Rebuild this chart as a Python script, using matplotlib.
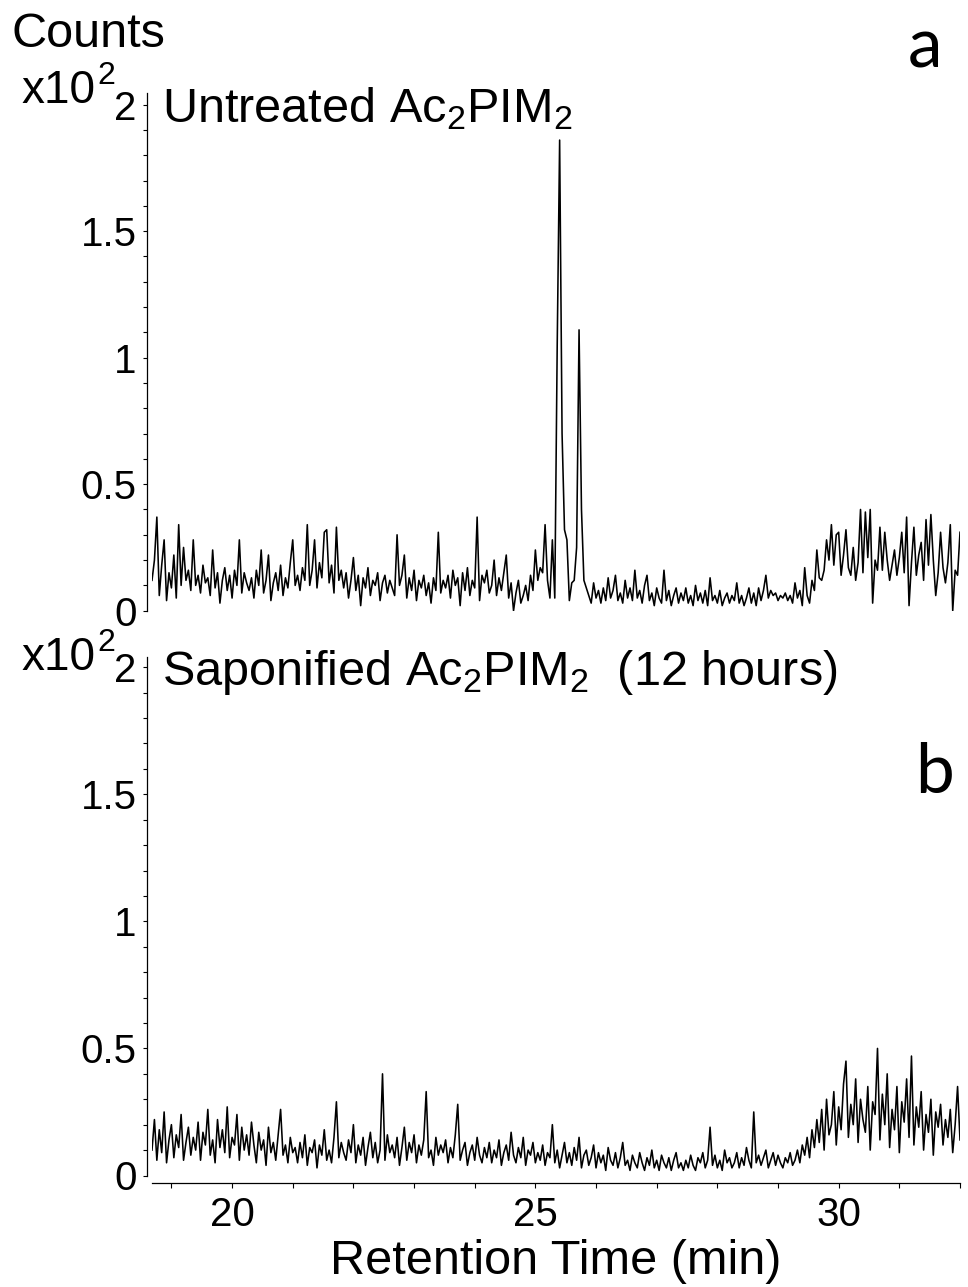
import numpy as np
import matplotlib
matplotlib.use("Agg")
import matplotlib.pyplot as plt
from matplotlib.ticker import MultipleLocator, FixedLocator

plt.rcParams['font.family'] = ['Liberation Sans', 'DejaVu Sans']
plt.rcParams['mathtext.fontset'] = 'custom'
plt.rcParams['mathtext.rm'] = 'Liberation Sans'
plt.rcParams['mathtext.it'] = 'Liberation Sans:italic'
plt.rcParams['mathtext.bf'] = 'Liberation Sans:bold'

# retention time grid (min), one reading every 0.04 min
rt_start = 18.68
rt_step = 0.04

untreated = [
    0.12, 0.20, 0.37, 0.06, 0.18, 0.28, 0.04, 0.15, 0.09, 0.22, 0.05, 0.34, 0.10, 0.25, 0.12, 0.16, 0.08, 0.28, 0.10, 0.14,
    0.07, 0.18, 0.11, 0.13, 0.06, 0.24, 0.09, 0.15, 0.03, 0.12, 0.17, 0.08, 0.14, 0.05, 0.16, 0.10, 0.28, 0.07, 0.15, 0.11,
    0.08, 0.13, 0.05, 0.16, 0.10, 0.24, 0.07, 0.12, 0.22, 0.04, 0.11, 0.15, 0.08, 0.18, 0.06, 0.13, 0.09, 0.19, 0.28, 0.10,
    0.14, 0.08, 0.17, 0.12, 0.34, 0.10, 0.16, 0.28, 0.09, 0.19, 0.13, 0.31, 0.32, 0.11, 0.18, 0.07, 0.33, 0.12, 0.16, 0.09,
    0.15, 0.05, 0.12, 0.21, 0.08, 0.14, 0.02, 0.13, 0.09, 0.17, 0.06, 0.12, 0.10, 0.15, 0.04, 0.11, 0.14, 0.07, 0.12, 0.09,
    0.06, 0.30, 0.10, 0.14, 0.22, 0.05, 0.13, 0.08, 0.16, 0.04, 0.12, 0.09, 0.14, 0.06, 0.11, 0.03, 0.13, 0.08, 0.31, 0.07,
    0.12, 0.09, 0.14, 0.05, 0.16, 0.10, 0.13, 0.02, 0.15, 0.08, 0.17, 0.06, 0.12, 0.09, 0.37, 0.04, 0.14, 0.11, 0.16, 0.07,
    0.10, 0.20, 0.06, 0.13, 0.08, 0.15, 0.22, 0.05, 0.11, 0.00, 0.07, 0.12, 0.03, 0.06, 0.10, 0.04, 0.14, 0.08, 0.24, 0.12,
    0.17, 0.15, 0.34, 0.12, 0.05, 0.28, 0.05, 1.05, 1.86, 0.70, 0.32, 0.28, 0.04, 0.11, 0.12, 0.25, 1.11, 0.40, 0.12, 0.09,
    0.06, 0.03, 0.11, 0.05, 0.08, 0.03, 0.09, 0.04, 0.13, 0.05, 0.08, 0.14, 0.04, 0.07, 0.03, 0.12, 0.05, 0.09, 0.04, 0.16,
    0.05, 0.08, 0.03, 0.10, 0.14, 0.04, 0.07, 0.02, 0.09, 0.05, 0.03, 0.16, 0.04, 0.08, 0.02, 0.06, 0.09, 0.03, 0.07, 0.04,
    0.09, 0.03, 0.06, 0.02, 0.10, 0.04, 0.07, 0.03, 0.08, 0.02, 0.13, 0.04, 0.06, 0.03, 0.08, 0.02, 0.05, 0.07, 0.03, 0.06,
    0.04, 0.11, 0.03, 0.06, 0.02, 0.05, 0.09, 0.03, 0.07, 0.02, 0.09, 0.04, 0.08, 0.14, 0.05, 0.08, 0.06, 0.07, 0.04, 0.06,
    0.05, 0.07, 0.04, 0.06, 0.03, 0.11, 0.05, 0.08, 0.02, 0.17, 0.06, 0.03, 0.12, 0.08, 0.24, 0.13, 0.12, 0.16, 0.28, 0.20,
    0.34, 0.18, 0.30, 0.31, 0.14, 0.22, 0.32, 0.17, 0.14, 0.25, 0.12, 0.19, 0.40, 0.15, 0.39, 0.21, 0.40, 0.03, 0.20, 0.16,
    0.33, 0.16, 0.31, 0.20, 0.12, 0.18, 0.24, 0.14, 0.21, 0.31, 0.15, 0.37, 0.02, 0.19, 0.33, 0.14, 0.22, 0.27, 0.12, 0.36,
    0.18, 0.38, 0.20, 0.06, 0.15, 0.31, 0.17, 0.11, 0.19, 0.34, 0.00, 0.16, 0.14, 0.31,
]

saponified = [
    0.10, 0.22, 0.06, 0.18, 0.09, 0.25, 0.05, 0.14, 0.20, 0.07, 0.16, 0.11, 0.24, 0.06, 0.13, 0.19, 0.08, 0.15, 0.10, 0.21,
    0.06, 0.17, 0.12, 0.26, 0.08, 0.14, 0.05, 0.22, 0.11, 0.18, 0.09, 0.27, 0.07, 0.15, 0.12, 0.24, 0.06, 0.19, 0.10, 0.16,
    0.08, 0.21, 0.12, 0.05, 0.17, 0.10, 0.14, 0.04, 0.19, 0.09, 0.13, 0.06, 0.16, 0.26, 0.08, 0.12, 0.05, 0.15, 0.09, 0.11,
    0.05, 0.13, 0.07, 0.16, 0.04, 0.11, 0.09, 0.14, 0.03, 0.12, 0.08, 0.18, 0.06, 0.10, 0.05, 0.15, 0.29, 0.07, 0.13, 0.09,
    0.06, 0.14, 0.09, 0.20, 0.05, 0.12, 0.08, 0.15, 0.04, 0.11, 0.17, 0.07, 0.13, 0.05, 0.10, 0.40, 0.06, 0.16, 0.09, 0.12,
    0.07, 0.15, 0.04, 0.11, 0.19, 0.06, 0.13, 0.09, 0.16, 0.05, 0.12, 0.08, 0.14, 0.33, 0.07, 0.10, 0.04, 0.15, 0.08, 0.12,
    0.09, 0.14, 0.05, 0.11, 0.07, 0.16, 0.28, 0.06, 0.10, 0.13, 0.04, 0.09, 0.12, 0.06, 0.15, 0.08, 0.05, 0.11, 0.07, 0.13,
    0.05, 0.10, 0.07, 0.14, 0.04, 0.09, 0.12, 0.06, 0.17, 0.08, 0.05, 0.11, 0.07, 0.15, 0.04, 0.10, 0.08, 0.13, 0.05, 0.09,
    0.06, 0.12, 0.04, 0.09, 0.07, 0.20, 0.05, 0.10, 0.03, 0.08, 0.13, 0.05, 0.09, 0.04, 0.11, 0.06, 0.15, 0.03, 0.08, 0.10,
    0.04, 0.07, 0.12, 0.03, 0.09, 0.05, 0.08, 0.02, 0.11, 0.06, 0.04, 0.09, 0.03, 0.07, 0.13, 0.04, 0.06, 0.02, 0.08, 0.05,
    0.03, 0.09, 0.05, 0.02, 0.07, 0.04, 0.10, 0.03, 0.06, 0.02, 0.08, 0.05, 0.03, 0.07, 0.02, 0.06, 0.09, 0.03, 0.05, 0.02,
    0.06, 0.03, 0.08, 0.04, 0.02, 0.07, 0.05, 0.09, 0.03, 0.06, 0.19, 0.04, 0.08, 0.03, 0.06, 0.02, 0.10, 0.05, 0.07, 0.03,
    0.05, 0.09, 0.03, 0.07, 0.04, 0.11, 0.06, 0.03, 0.25, 0.05, 0.08, 0.04, 0.07, 0.10, 0.03, 0.06, 0.09, 0.04, 0.08, 0.05,
    0.03, 0.07, 0.05, 0.09, 0.04, 0.06, 0.10, 0.05, 0.12, 0.08, 0.15, 0.07, 0.18, 0.11, 0.22, 0.13, 0.26, 0.10, 0.30, 0.16,
    0.20, 0.33, 0.12, 0.27, 0.18, 0.36, 0.45, 0.15, 0.28, 0.20, 0.38, 0.13, 0.30, 0.22, 0.17, 0.35, 0.10, 0.29, 0.24, 0.50,
    0.14, 0.32, 0.20, 0.40, 0.11, 0.26, 0.18, 0.35, 0.09, 0.29, 0.21, 0.38, 0.15, 0.47, 0.12, 0.27, 0.19, 0.33, 0.10, 0.24,
    0.17, 0.30, 0.08, 0.25, 0.19, 0.28, 0.12, 0.22, 0.15, 0.26, 0.09, 0.20, 0.35, 0.14,
]

titles = [r'Untreated Ac$_\mathrm{2}$PIM$_\mathrm{2}$',
          r'Saponified Ac$_\mathrm{2}$PIM$_\mathrm{2}$  (12 hours)']
panel_tags = ['a', 'b']
y_ticks = [0, 0.5, 1, 1.5, 2]
y_ticklabels = ['0', '0.5', '1', '1.5', '2']
x_ticks = [20, 25, 30]
x_range = (18.68, 32.0)

W, H = 968, 1287
fig = plt.figure(figsize=(W / 100, H / 100), dpi=100)

# axes boxes in pixels: left, right, top, bottom
left_px, right_px = 152, 960
boxes = [(93, 610.7), (657, 1175.5)]
ytops = [2.046, 2.04]

axes = []
for k, (top_px, bot_px) in enumerate(boxes):
    ax = fig.add_axes([left_px / W, 1 - bot_px / H,
                       (right_px - left_px) / W, (bot_px - top_px) / H])
    axes.append(ax)

for k, (ax, vals) in enumerate(zip(axes, [untreated, saponified])):
    t = rt_start + rt_step * np.arange(len(vals))
    ax.plot(t, vals, color='black', lw=1.15)
    ax.set_xlim(*x_range)
    ax.set_ylim(0, ytops[k])

    for s in ['top', 'right']:
        ax.spines[s].set_visible(False)
    ax.spines['left'].set_position(('outward', 3.6))
    ax.spines['left'].set_linewidth(0.9)

    ax.yaxis.set_major_locator(FixedLocator(y_ticks))
    ax.set_yticklabels(y_ticklabels)
    ax.yaxis.set_minor_locator(MultipleLocator(0.1))
    ax.tick_params(axis='y', which='both', direction='out', length=3,
                   width=0.8, labelsize=29, pad=4.3)

    ax.text(10 / (right_px - left_px), 1.93, titles[k], transform=ax.get_yaxis_transform(),
            fontsize=35, va='baseline', ha='left')

# panel a: no x axis
axes[0].spines['bottom'].set_visible(False)
axes[0].tick_params(axis='x', which='both', bottom=False, labelbottom=False)

# panel b: x axis offset below
axb = axes[1]
axb.spines['bottom'].set_position(('outward', 5.4))
axb.spines['bottom'].set_linewidth(0.9)
axb.xaxis.set_major_locator(FixedLocator(x_ticks))
axb.xaxis.set_minor_locator(MultipleLocator(1))
axb.tick_params(axis='x', which='both', direction='out', length=3.6,
                width=0.8, labelsize=29, pad=6)

fig.text(556 / W, 1 - 1274 / H, 'Retention Time (min)', fontsize=35,
         ha='center', va='baseline')

fig.text(12 / W, 1 - 47 / H, 'Counts', fontsize=35, ha='left', va='baseline')

for base in [103, 670]:
    fig.text(21 / W, 1 - base / H, 'x10', fontsize=33, ha='left', va='baseline')
    fig.text(97 / W, 1 - (base - 19) / H, '2', fontsize=23, ha='left', va='baseline')

fig.text(908 / W, 1 - 68 / H, panel_tags[0], fontsize=50, family='Lato',
         ha='left', va='baseline')
fig.text(915 / W, 1 - 793 / H, panel_tags[1], fontsize=50, family='Lato',
         ha='left', va='baseline')

fig.savefig('out.png', dpi=100)
